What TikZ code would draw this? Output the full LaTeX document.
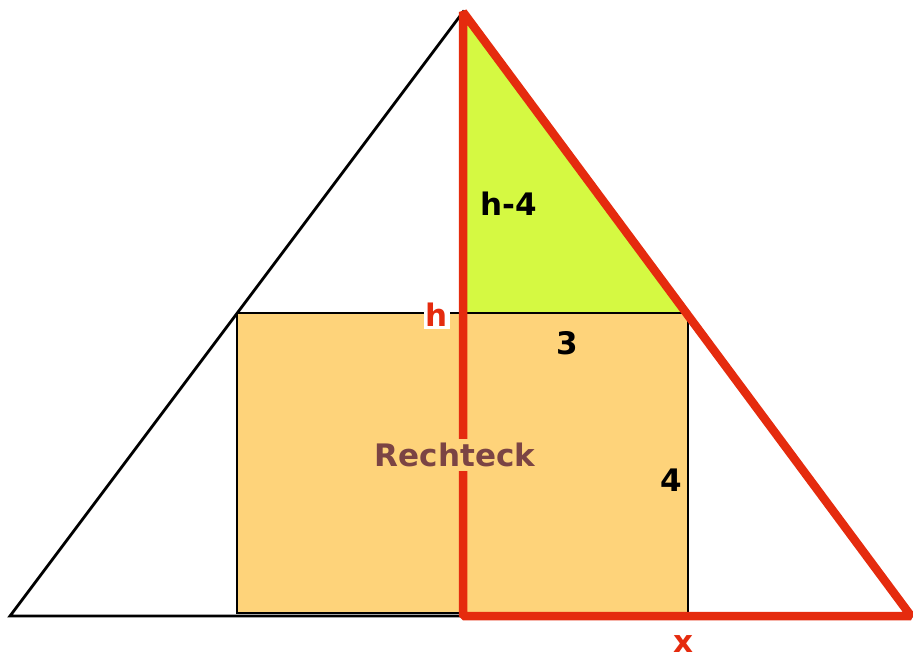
\documentclass[tikz,border=0pt]{standalone}
\usepackage{fontspec}
\setmainfont{DejaVu Sans}
\definecolor{rectfill}{HTML}{FED37A}
\definecolor{greenfill}{HTML}{D5F942}
\definecolor{redline}{HTML}{E52B0E}
\definecolor{labelbrown}{HTML}{7B4444}
\tikzset{
  blackline/.style={draw=black, line width=2.8pt},
  redtri/.style={draw=redline, line width=8.5pt, line join=bevel},
  lbl/.style={font=\fontsize{31}{31}\selectfont\bfseries, inner sep=1pt},
}
\begin{document}
\begin{tikzpicture}[x=1pt,y=-1pt]
\useasboundingbox (0,0) rectangle (913,659);
\coordinate (L) at (10,616);
\coordinate (A) at (463,12);
\coordinate (R) at (911,616);
\coordinate (F) at (463,616);
\coordinate (RTL) at (237,313);
\coordinate (RBR) at (688,613);
\coordinate (G) at (463,313);
\coordinate (H) at (687,313);
% big triangle
\draw[blackline, line join=miter] (L) -- (A) -- (R) -- cycle;
% rectangle
\fill[rectfill] (RTL) rectangle (RBR);
\draw[blackline] (RTL) rectangle (RBR);
% green triangle
\fill[greenfill] (A) -- (G) -- (H) -- cycle;
\draw[blackline] (G) -- (H);
% red triangle
\draw[redtri] (A) -- (F) -- (R) -- cycle;
% labels
\node[lbl] (hm4) at (509,204) {h-4};
\node[lbl, text=redline, fill=white, inner sep=2pt] (h) at (437,315) {h};
\node[lbl] (three) at (567,343) {3};
\node[lbl, text=labelbrown, fill=rectfill, inner sep=4pt] (rect) at (455,455) {Rechteck};
\node[lbl] (four) at (671,480) {4};
\node[lbl, text=redline, inner sep=0pt] (x) at (683,644) {x};
\end{tikzpicture}
\end{document}
